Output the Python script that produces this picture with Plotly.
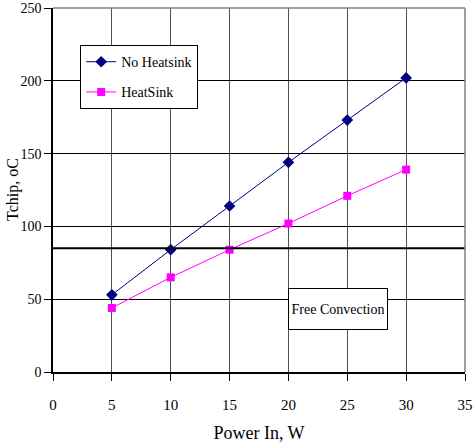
import plotly.graph_objects as go

power = [5, 10, 15, 20, 25, 30]
no_heatsink = [53, 84, 114, 144, 173, 202]
heat_sink = [44, 65, 84, 102, 121, 139]
limit_temp = 85
x_ticks = [0, 5, 10, 15, 20, 25, 30, 35]
y_ticks = [0, 50, 100, 150, 200, 250]

FONT = "Liberation Serif"

fig = go.Figure()
fig.add_trace(go.Scatter(
    x=power, y=no_heatsink, name="No Heatsink", mode="lines+markers",
    legendgroup="a",
    line=dict(color="#000080", width=1),
    marker=dict(symbol="diamond", size=9, color="#000080"),
))
fig.add_trace(go.Scatter(
    x=power, y=heat_sink, name="HeatSink", mode="lines+markers",
    legendgroup="b",
    line=dict(color="#FF00FF", width=1),
    marker=dict(symbol="square", size=8, color="#FF00FF"),
))

fig.add_shape(type="line", xref="paper", yref="y", x0=0, x1=1,
              y0=limit_temp, y1=limit_temp, line=dict(color="black", width=2))
# gray top/right border
fig.add_shape(type="line", xref="paper", yref="paper", x0=0, x1=1, y0=1, y1=1,
              line=dict(color="#808080", width=1.5))
fig.add_shape(type="line", xref="paper", yref="paper", x0=1, x1=1, y0=0, y1=1,
              line=dict(color="#808080", width=1.5))

fig.add_annotation(x=24.2, y=43.3, xref="x", yref="y", text="Free Convection",
                   showarrow=False, font=dict(family=FONT, size=14, color="black"),
                   bgcolor="white", bordercolor="black", borderwidth=1, borderpad=2,
                   width=94, height=36)

# y-axis title as rotated text
fig.add_annotation(x=0, y=0.5, xref="paper", yref="paper", text="Tchip, oC",
                   showarrow=False, textangle=-90, xanchor="center", yanchor="middle",
                   xshift=-40, font=dict(family=FONT, size=16, color="black"))

fig.update_layout(
    width=476, height=446,
    margin=dict(l=53, r=11, t=8, b=74),
    paper_bgcolor="white", plot_bgcolor="white",
    font=dict(family=FONT, size=15, color="black"),
    showlegend=True,
    legend=dict(x=0.066, y=0.898, xanchor="left", yanchor="top",
                bgcolor="white", bordercolor="black", borderwidth=1,
                font=dict(family=FONT, size=14), tracegroupgap=9,
                itemwidth=30),
    xaxis=dict(range=[0, 35], tickvals=x_ticks, showgrid=True,
               gridcolor="#505050", gridwidth=1, zeroline=False,
               showline=True, linecolor="black", linewidth=1.5,
               ticks="outside", ticklen=7, tickcolor="black",
               ticklabelstandoff=11, automargin=False,
               title=dict(text="Power In, W", standoff=15),
               tickfont=dict(family=FONT, size=15)),
    yaxis=dict(range=[0, 250], tickvals=y_ticks, showgrid=True,
               gridcolor="black", gridwidth=1, zeroline=False,
               showline=True, linecolor="black", linewidth=1.5,
               ticks="outside", ticklen=7, tickcolor="black",
               automargin=False,
               tickfont=dict(family=FONT, size=14)),
)

fig.write_html("out.html", config={"displayModeBar": False},
               post_script="document.body.style.margin='0';")
